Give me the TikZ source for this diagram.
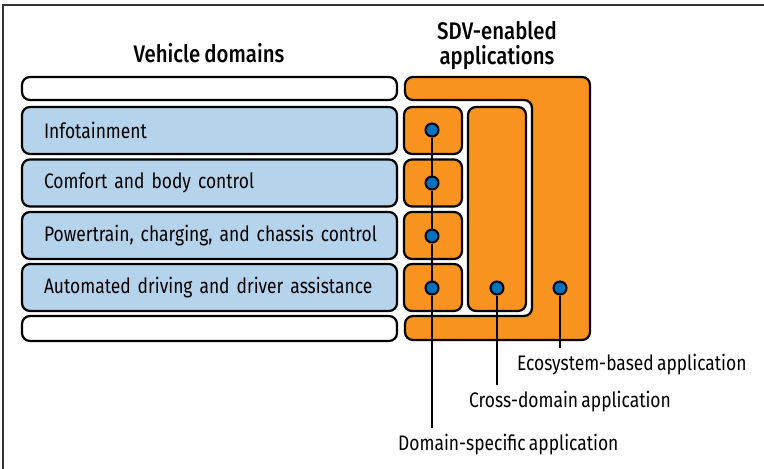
\documentclass[tikz,border=0pt]{standalone}
\usepackage{fontspec}
\setmainfont{Fira Sans}[FakeStretch=0.83, WordSpace=0.7]
\newfontfamily\titlefont{Fira Sans Medium}[FakeStretch=0.85, WordSpace=0.8]
\definecolor{skyblue}{HTML}{B5D4EC}
\definecolor{sdvorange}{HTML}{F7931E}
\definecolor{dotblue}{HTML}{0071BC}
\definecolor{framegray}{HTML}{333333}
\begin{document}
\begin{tikzpicture}[x=1pt,y=-1pt,
  every node/.style={font=\fontsize{21}{25}\selectfont},
  box/.style={draw, line width=2.2pt, rounded corners=8pt, inner sep=0pt},
  dom/.style={box, fill=skyblue, minimum height=47pt, text width=331pt, align=left, inner xsep=22pt},
  emptybar/.style={box, fill=white, minimum width=375pt},
  dsbox/.style={box, fill=sdvorange, minimum width=58pt, minimum height=47pt},
  appdot/.style={circle, draw, line width=2pt, fill=dotblue, minimum size=13pt, inner sep=0pt},
  conn/.style={line width=2.2pt},
  applabel/.style={inner xsep=0pt, inner ysep=5pt, anchor=base west},
  title/.style={font=\titlefont\fontsize{24}{25}\selectfont, align=center}]
\useasboundingbox (0,0) rectangle (764,469);
\draw[line width=1.6pt, framegray] (3,469) -- (3,5) -- (764,5);

% titles
\node[title] (tvd) at (209,53) {Vehicle domains};
\node[title] (tsdv) at (497,45.5) {SDV-enabled\\applications};

% ecosystem shape
\draw[line width=2.2pt, fill=sdvorange, rounded corners=8pt]
  (405,77) -- (590,77) -- (590,340) -- (405,340) -- (405,316) -- (532,316) -- (532,100) -- (405,100) -- cycle;

% vehicle domains
\node[emptybar, minimum height=23pt] (top) at (209.5,88.5) {};
\node[dom] (info) at (209.5,130.5) {\mbox{Infotainment}};
\node[dom] (comf) at (209.5,183) {\mbox{Comfort and body control}};
\node[dom] (power) at (209.5,235.5) {\mbox{Powertrain, charging, and chassis control}};
\node[dom] (auto) at (209.5,287.5) {\mbox{Automated driving and driver assistance}};
\node[emptybar, minimum height=25pt] (bot) at (209.5,328.5) {};

% domain-specific boxes
\node[dsbox] (ds1) at (433,130.5) {};
\node[dsbox] (ds2) at (433,183) {};
\node[dsbox] (ds3) at (433,235.5) {};
\node[dsbox] (ds4) at (433,287.5) {};
% cross-domain box
\node[box, fill=sdvorange, minimum width=58pt, minimum height=204pt] (cd) at (497,209) {};

% dots
\node[appdot] (d1) at (432,130) {};
\node[appdot] (d2) at (432,183) {};
\node[appdot] (d3) at (432,236) {};
\node[appdot] (d4) at (432,288) {};
\node[appdot] (dc) at (497,288) {};
\node[appdot] (de) at (560,288) {};

% labels
\node[applabel] (le) at (517,370) {Ecosystem-based application};
\node[applabel] (lc) at (469,407) {Cross-domain application};
\node[applabel] (ld) at (398,450) {Domain-specific application};

% connectors
\draw[conn] (d1) -- (d2);
\draw[conn] (d2) -- (d3);
\draw[conn] (d3) -- (d4);
\draw[conn] (d4) -- (d4 |- ld.north);
\draw[conn] (dc) -- (dc |- lc.north);
\draw[conn] (de) -- (de |- le.north);
\end{tikzpicture}
\end{document}
